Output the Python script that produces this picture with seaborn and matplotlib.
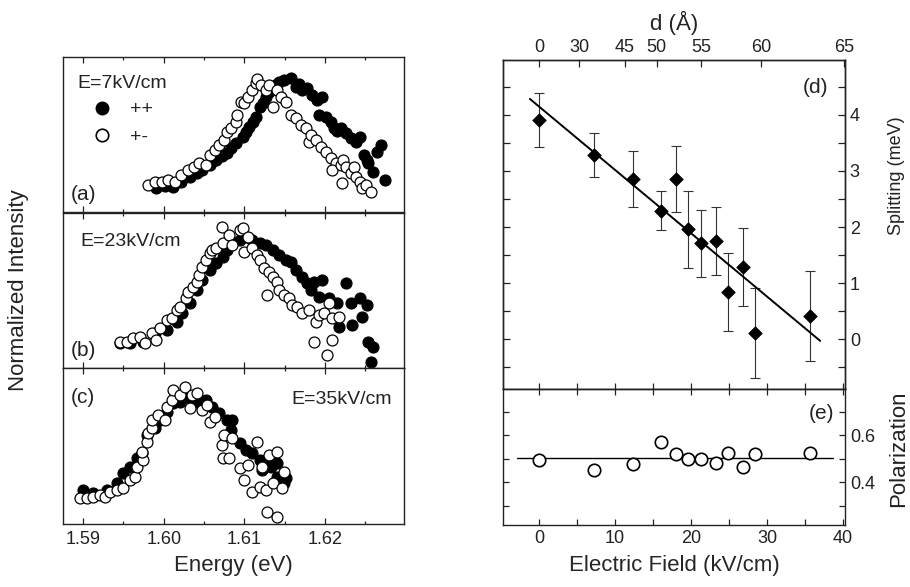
#!/usr/bin/env python3
"""
Exciton spectra under electric field (a-c) and splitting / polarization vs field (d-e).
"""

import numpy as np
import seaborn as sns
import matplotlib.pyplot as plt
from matplotlib.lines import Line2D
from matplotlib.ticker import MultipleLocator, NullFormatter

# --- panel (a): E = 7 kV/cm ---
a_pp_energy = [1.5991, 1.6001, 1.6011, 1.6021, 1.6032, 1.6041, 1.6048, 1.6057, 1.6065, 1.6072,
               1.6078, 1.6084, 1.6090, 1.6098, 1.6102, 1.6106, 1.6111, 1.6115, 1.6119, 1.6123,
               1.6127, 1.6131, 1.6135, 1.6140, 1.6143, 1.6149, 1.6158, 1.6164, 1.6168, 1.6172,
               1.6178, 1.6184, 1.6190, 1.6196, 1.6193, 1.6201, 1.6207, 1.6211, 1.6215, 1.6220,
               1.6226, 1.6232, 1.6238, 1.6244, 1.6248, 1.6252, 1.6254, 1.6260, 1.6264, 1.6270,
               1.6275]
a_pp_int = [.155, .168, .161, .194, .226, .252, .271, .303, .335, .361,
            .381, .413, .445, .484, .516, .548, .581, .613, .677, .703,
            .742, .774, .800, .826, .839, .852, .865, .806, .826, .787,
            .800, .755, .723, .742, .626, .613, .581, .542, .523, .542,
            .510, .477, .452, .484, .368, .335, .316, .258, .387, .432,
            .206]
a_pm_energy = [1.5980, 1.5989, 1.5998, 1.6005, 1.6014, 1.6022, 1.6030, 1.6038, 1.6044, 1.6053,
               1.6057, 1.6063, 1.6069, 1.6075, 1.6078, 1.6084, 1.6090, 1.6091, 1.6096, 1.6100,
               1.6104, 1.6110, 1.6115, 1.6116, 1.6121, 1.6127, 1.6131, 1.6135, 1.6140, 1.6146,
               1.6152, 1.6158, 1.6164, 1.6170, 1.6177, 1.6180, 1.6183, 1.6189, 1.6195, 1.6201,
               1.6207, 1.6214, 1.6209, 1.6220, 1.6223, 1.6226, 1.6232, 1.6236, 1.6238, 1.6221,
               1.6244, 1.6246, 1.6251, 1.6257]
a_pm_int = [.174, .194, .194, .206, .194, .239, .271, .290, .316, .303,
            .368, .400, .432, .465, .516, .542, .581, .626, .710, .703,
            .742, .787, .832, .858, .819, .787, .819, .677, .787, .742,
            .710, .626, .606, .561, .542, .452, .497, .465, .419, .387,
            .348, .316, .271, .303, .335, .290, .252, .290, .226, .187,
            .194, .155, .174, .129]

# --- panel (b): E = 23 kV/cm ---
b_pp_energy = [1.5946, 1.5958, 1.5974, 1.5989, 1.6004, 1.6016, 1.6023, 1.6032, 1.6041, 1.6048,
               1.6057, 1.6065, 1.6073, 1.6079, 1.6085, 1.6094, 1.6102, 1.6110, 1.6119, 1.6127,
               1.6135, 1.6143, 1.6152, 1.6158, 1.6164, 1.6172, 1.6178, 1.6186, 1.6196, 1.6183,
               1.6193, 1.6205, 1.6215, 1.6226, 1.6232, 1.6244, 1.6252, 1.6246, 1.6217, 1.6233,
               1.6254, 1.6260, 1.6257]
b_pp_int = [.161, .161, .168, .226, .245, .297, .355, .419, .503, .568,
            .632, .677, .716, .761, .806, .826, .845, .826, .806, .794,
            .761, .729, .697, .684, .632, .587, .548, .555, .568, .503,
            .458, .452, .419, .548, .419, .452, .406, .329, .265, .277,
            .168, .135, .039]
b_pm_energy = [1.5946, 1.5954, 1.5962, 1.5970, 1.5977, 1.5985, 1.5991, 1.5995, 1.6004, 1.6010,
               1.6016, 1.6020, 1.6028, 1.6030, 1.6036, 1.6041, 1.6044, 1.6047, 1.6053, 1.6057,
               1.6060, 1.6065, 1.6073, 1.6072, 1.6081, 1.6085, 1.6094, 1.6098, 1.6104, 1.6100,
               1.6110, 1.6116, 1.6119, 1.6125, 1.6131, 1.6135, 1.6141, 1.6128, 1.6143, 1.6149,
               1.6156, 1.6159, 1.6165, 1.6172, 1.6180, 1.6189, 1.6193, 1.6199, 1.6205, 1.6209,
               1.6217, 1.6186, 1.6209, 1.6202]
b_pm_int = [.168, .168, .194, .200, .161, .226, .181, .258, .310, .323,
            .374, .394, .452, .490, .523, .555, .600, .652, .697, .742,
            .761, .774, .806, .910, .858, .794, .890, .903, .845, .748,
            .774, .729, .697, .645, .619, .587, .555, .471, .503, .471,
            .452, .406, .394, .355, .374, .297, .342, .355, .419, .323,
            .329, .168, .181, .084]

# --- panel (c): E = 35 kV/cm ---
c_pp_energy = [1.5900, 1.5912, 1.5930, 1.5942, 1.5949, 1.5958, 1.5967, 1.5973, 1.5979, 1.5989,
               1.5995, 1.6004, 1.6011, 1.6020, 1.6028, 1.6036, 1.6044, 1.6053, 1.6060, 1.6069,
               1.6078, 1.6085, 1.6084, 1.6094, 1.6102, 1.6110, 1.6119, 1.6127, 1.6122, 1.6133,
               1.6140, 1.6141, 1.6149, 1.6152]
c_pp_int = [.218, .199, .218, .263, .327, .365, .423, .455, .571, .615,
            .667, .718, .776, .782, .814, .795, .776, .795, .750, .712,
            .667, .667, .603, .519, .474, .455, .410, .410, .346, .365,
            .391, .301, .263, .295]
c_pm_energy = [1.5896, 1.5905, 1.5912, 1.5921, 1.5927, 1.5933, 1.5942, 1.5949, 1.5958, 1.5964,
               1.5967, 1.5974, 1.5973, 1.5979, 1.5980, 1.5986, 1.5985, 1.5993, 1.6001, 1.6004,
               1.6010, 1.6011, 1.6020, 1.6026, 1.6035, 1.6032, 1.6041, 1.6048, 1.6054, 1.6057,
               1.6063, 1.6072, 1.6075, 1.6073, 1.6081, 1.6085, 1.6094, 1.6100, 1.6104, 1.6116,
               1.6109, 1.6119, 1.6127, 1.6131, 1.6140, 1.6135, 1.6147, 1.6149, 1.6128, 1.6141,
               1.6122]
c_pm_int = [.167, .167, .173, .186, .173, .205, .218, .231, .282, .301,
            .365, .410, .462, .526, .583, .615, .667, .699, .667, .750,
            .795, .859, .827, .878, .827, .744, .840, .731, .763, .654,
            .686, .506, .571, .423, .423, .551, .359, .282, .378, .526,
            .205, .237, .218, .442, .462, .263, .231, .333, .077, .045,
            .365]

# --- panels (d), (e): vs electric field ---
field = [0.0, 7.3, 12.4, 16.1, 18.0, 19.6, 21.3, 23.3, 24.9, 26.8, 28.4, 35.6]
splitting = [3.91, 3.29, 2.86, 2.29, 2.86, 1.96, 1.71, 1.75, 0.84, 1.29, 0.11, 0.41]
splitting_err = [0.49, 0.39, 0.50, 0.35, 0.59, 0.69, 0.60, 0.60, 0.70, 0.70, 0.80, 0.80]
polarization = [0.494, 0.451, 0.477, 0.570, 0.519, 0.498, 0.498, 0.481, 0.523, 0.464, 0.519, 0.523]

fit_slope = -0.113
fit_intercept = 4.15
fit_range = [-1.2, 37.0]
pol_mean = 0.502
pol_range = [-2.9, 38.7]

# top axis: well width d (Å) at the field where it applies
d_field = [0.0, 5.3, 11.3, 15.5, 21.3, 29.2, 40.2]
d_labels = ["0", "30", "45", "50", "55", "60", "65"]

sns.set_theme(style="ticks")
plt.rcParams["font.family"] = ["Liberation Sans", "DejaVu Sans"]
plt.rcParams["xtick.direction"] = "in"
plt.rcParams["ytick.direction"] = "in"

fig = plt.figure(figsize=(9.1, 5.87), dpi=100)

ax_a = fig.add_axes([0.0692, 0.6388, 0.3747, 0.2641])
ax_b = fig.add_axes([0.0692, 0.3731, 0.3747, 0.2641])
ax_c = fig.add_axes([0.0692, 0.1073, 0.3747, 0.2658])
ax_d = fig.add_axes([0.5527, 0.3373, 0.3758, 0.5605])
ax_e = fig.add_axes([0.5527, 0.1056, 0.3758, 0.2317])

MS = 62
panels = [
    (ax_a, a_pp_energy, a_pp_int, a_pm_energy, a_pm_int),
    (ax_b, b_pp_energy, b_pp_int, b_pm_energy, b_pm_int),
    (ax_c, c_pp_energy, c_pp_int, c_pm_energy, c_pm_int),
]
for ax, e_pp, i_pp, e_pm, i_pm in panels:
    sns.scatterplot(x=e_pp, y=i_pp, ax=ax, color="black", edgecolor="black",
                    s=MS, linewidth=0.9, zorder=2)
    sns.scatterplot(x=e_pm, y=i_pm, ax=ax, color="white", edgecolor="black",
                    s=MS, linewidth=0.9, zorder=3)
    ax.set_xlim(1.5875, 1.6298)
    ax.set_ylim(0, 1)
    ax.set_yticks([])
    ax.xaxis.set_major_locator(MultipleLocator(0.01))
    ax.xaxis.set_minor_locator(MultipleLocator(0.005))
    ax.tick_params(axis="x", which="both", top=True, bottom=True, length=4,
                   width=0.9, labelsize=13, colors="#222222")
    ax.tick_params(axis="x", which="minor", length=2.5)
    for sp in ax.spines.values():
        sp.set_linewidth(1.0)
        sp.set_color("#222222")
    ax.set_xlabel("")
    ax.set_ylabel("")

for ax in (ax_a, ax_b):
    ax.xaxis.set_major_formatter(NullFormatter())
ax_c.xaxis.set_major_formatter(plt.FormatStrFormatter("%.2f"))
ax_c.tick_params(axis="x", pad=5)
ax_c.set_xlabel("Energy (eV)", fontsize=16, labelpad=5)

txt = dict(fontsize=14, color="#222222")
ax_a.text(0.041, 0.83, "E=7kV/cm", transform=ax_a.transAxes, va="center", **txt)
ax_a.text(0.024, 0.11, "(a)", transform=ax_a.transAxes, va="center", fontsize=15, color="#222222")
ax_b.text(0.05, 0.813, "E=23kV/cm", transform=ax_b.transAxes, va="center", **txt)
ax_b.text(0.024, 0.116, "(b)", transform=ax_b.transAxes, va="center", fontsize=15, color="#222222")
ax_c.text(0.024, 0.808, "(c)", transform=ax_c.transAxes, va="center", fontsize=15, color="#222222")
ax_c.text(0.965, 0.795, "E=35kV/cm", transform=ax_c.transAxes, va="center", ha="right", **txt)

handles = [
    Line2D([], [], marker="o", ls="", markerfacecolor="black", markeredgecolor="black",
           markersize=9, label="++"),
    Line2D([], [], marker="o", ls="", markerfacecolor="white", markeredgecolor="black",
           markersize=9, markeredgewidth=1.2, label="+-"),
]
ax_a.legend(handles=handles, loc="upper left", bbox_to_anchor=(0.028, 0.78), frameon=False,
            fontsize=14, handletextpad=0.45, labelspacing=0.5, borderpad=0)

fig.text(0.02, 0.506, "Normalized Intensity", rotation=90, ha="center", va="center",
         fontsize=16, color="#222222")

# --- (d) splitting ---
fit_x = np.array(fit_range)
fit_y = fit_intercept + fit_slope * fit_x
ax_d.errorbar(field, splitting, yerr=splitting_err, fmt="none", ecolor="#333333",
              elinewidth=0.8, capsize=3.5, capthick=0.8, zorder=2)
sns.lineplot(x=fit_x, y=fit_y, ax=ax_d, color="black", linewidth=1.4, zorder=3)
sns.scatterplot(x=field, y=splitting, ax=ax_d, marker="D", color="black",
                edgecolor="black", s=48, linewidth=0.5, zorder=4)
ax_d.set_xlim(-4.74, 40.26)
ax_d.set_ylim(-0.89, 4.98)
ax_d.yaxis.set_major_locator(MultipleLocator(1))
ax_d.yaxis.set_minor_locator(MultipleLocator(0.5))
ax_d.xaxis.set_major_locator(MultipleLocator(5))
ax_d.tick_params(axis="y", which="both", left=True, right=True, labelleft=False,
                 labelright=True, labelsize=13, width=0.9, colors="#222222")
ax_d.tick_params(axis="y", which="major", length=5)
ax_d.tick_params(axis="y", which="minor", length=5)
ax_d.tick_params(axis="x", which="both", bottom=True, top=False, labelbottom=False,
                 length=4, width=0.9)
ax_d.set_xlabel("")
ax_d.set_ylabel("")
ax_d.text(0.95, 0.915, "(d)", transform=ax_d.transAxes, ha="right", va="center",
          fontsize=15, color="#222222")

ax_top = ax_d.twiny()
ax_top.set_xlim(ax_d.get_xlim())
ax_top.set_xticks(d_field)
ax_top.set_xticklabels(d_labels)
ax_top.tick_params(axis="x", direction="in", length=5, width=0.9, labelsize=13,
                   colors="#222222", pad=3)
ax_top.set_xlabel("d (Å)", fontsize=16, labelpad=6, color="#222222")

fig.text(0.985, 0.70, "Splitting (meV)", rotation=90, ha="center", va="center",
         fontsize=13, color="#222222")

# --- (e) polarization ---
pol_x = np.array(pol_range)
pol_y = np.full_like(pol_x, pol_mean)
sns.lineplot(x=pol_x, y=pol_y, ax=ax_e, color="black", linewidth=1.0, zorder=2)
sns.scatterplot(x=field, y=polarization, ax=ax_e, marker="o", color="white",
                edgecolor="black", s=80, linewidth=1.2, zorder=3)
ax_e.set_xlim(-4.74, 40.26)
ax_e.set_ylim(0.217, 0.796)
ax_e.yaxis.set_major_locator(MultipleLocator(0.2))
ax_e.yaxis.set_minor_locator(MultipleLocator(0.1))
ax_e.xaxis.set_major_locator(MultipleLocator(10))
ax_e.xaxis.set_minor_locator(MultipleLocator(5))
ax_e.yaxis.set_major_formatter(plt.FormatStrFormatter("%.1f"))
ax_e.tick_params(axis="y", which="both", left=True, right=True, labelleft=False,
                 labelright=True, labelsize=13, length=4, width=0.9, colors="#222222")
ax_e.tick_params(axis="x", which="both", top=True, bottom=True, labelsize=13,
                 length=4, width=0.9, colors="#222222")
ax_e.set_xlabel("Electric Field (kV/cm)", fontsize=16, labelpad=6)
ax_e.set_ylabel("")
ax_e.text(0.97, 0.82, "(e)", transform=ax_e.transAxes, ha="right", va="center",
          fontsize=15, color="#222222")
fig.text(0.987, 0.235, "Polarization", rotation=90, ha="center", va="center",
         fontsize=16, color="#222222")

for ax in (ax_d, ax_e, ax_top):
    for sp in ax.spines.values():
        sp.set_linewidth(1.0)
        sp.set_color("#222222")

fig.savefig("out.png", dpi=100)
